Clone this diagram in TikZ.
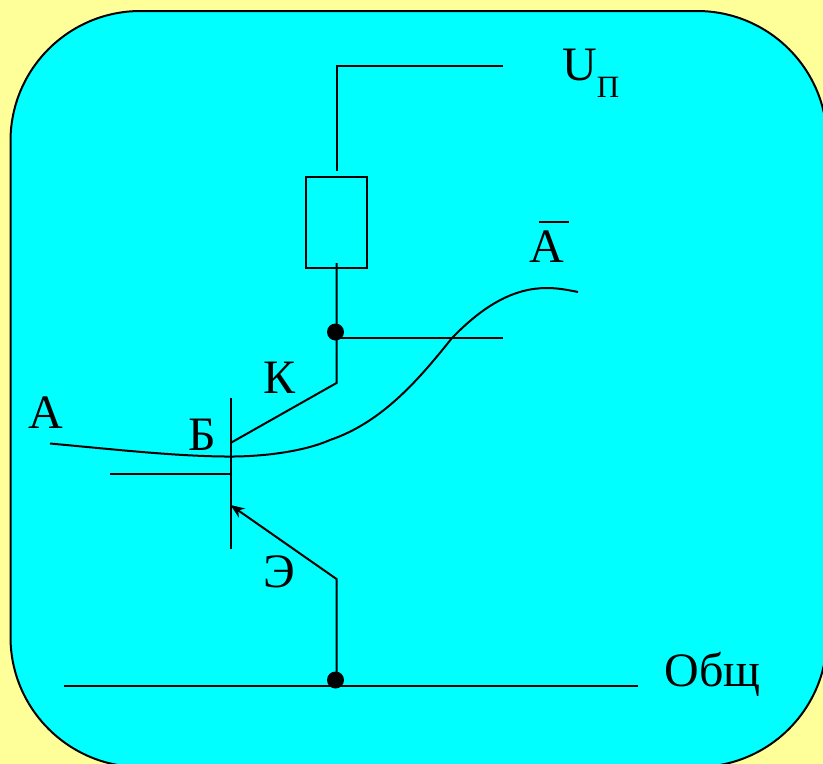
\documentclass[tikz,border=0pt]{standalone}
\usepackage{fontspec}
\setmainfont{Liberation Serif}
\usetikzlibrary{arrows.meta}
\definecolor{bgy}{RGB}{255,255,153}
\definecolor{panel}{RGB}{0,255,255}
\tikzset{
  wire/.style={draw=black,line width=2pt},
  junction/.style={circle,fill=black,inner sep=0pt,minimum size=17pt},
  lbl/.style={inner sep=0pt,font=\fontsize{48}{48}\selectfont,anchor=base},
  sublbl/.style={inner sep=0pt,font=\fontsize{31}{31}\selectfont,anchor=base}
}
\begin{document}
\begin{tikzpicture}[x=1pt,y=-1pt]
\useasboundingbox (0,0) rectangle (823,764);
\fill[bgy] (0,0) rectangle (823,764);
\begin{scope}
\clip (0,0) rectangle (823,764);
\draw[fill=panel,line width=2pt,rounded corners=130pt] (10.5,11) rectangle (827,767);
\end{scope}
% coordinates
\coordinate (vccEnd) at (503,65.5);
\coordinate (vccCorner) at (336.5,65.5);
\coordinate (rTopLead) at (336.5,171);
\coordinate (rBotLead) at (336.5,263);
\node[wire,rectangle,inner sep=0pt,minimum width=60.5pt,minimum height=91pt] (res) at (336.5,222.5) {};
\node[junction] (jc) at (335.5,332) {};
\node[junction] (je) at (335.5,680) {};
\coordinate (outEnd) at (503,338);
\coordinate (outStart) at (336.5,338);
\coordinate (cCorner) at (336.5,383);
\coordinate (cBase) at (230.5,443);
\coordinate (baseTop) at (230.5,398);
\coordinate (baseBot) at (230.5,549);
\coordinate (bIn) at (110,474);
\coordinate (bJ) at (230.5,474);
\coordinate (eBase) at (230.5,505);
\coordinate (eCorner) at (336.5,579);
\coordinate (eGnd) at (336.5,680);
\coordinate (gL) at (64,685.5);
\coordinate (gR) at (638,685.5);
% wires
\draw[wire] (vccEnd) -- (vccCorner) -- (rTopLead);
\draw[wire] (rBotLead) -- (cCorner) -- (cBase);
\draw[wire] (outStart) -- (outEnd);
\draw[wire] (baseTop) -- (baseBot);
\draw[wire] (bIn) -- (bJ);
\draw[wire,-{Stealth[length=14pt,width=11pt]}] (eGnd) -- (eCorner) -- (eBase);
\draw[wire] (gL) -- (gR);
% signal curve
\coordinate (sigA) at (50,443.5);
\coordinate (sigB) at (578,292);
\draw[wire] (sigA) .. controls (120,450) and (175,456) .. (225,456.5)
  .. controls (265,457) and (305,451) .. (330,440)
  .. controls (383,422) and (420,378) .. (452,338)
  .. controls (485,304) and (515,288) .. (547,288)
  .. controls (558,288) and (568,290) .. (sigB);
% labels
\node[lbl] (la) at (45.5,428) {А};
\node[lbl] (lb) at (202,450) {Б};
\node[lbl] (lk) at (280,393) {К};
\node[lbl] (le) at (279,587) {Э};
\node[lbl] (lu) at (580,80) {U};
\node[sublbl] (lp) at (608,97) {П};
\node[lbl] (lna) at (546.5,262) {А};
\coordinate (barL) at (539,222);
\coordinate (barR) at (569,222);
\draw[wire] (barL) -- (barR);
\node[lbl] (lg) at (712.5,686) {Общ};
\end{tikzpicture}
\end{document}
